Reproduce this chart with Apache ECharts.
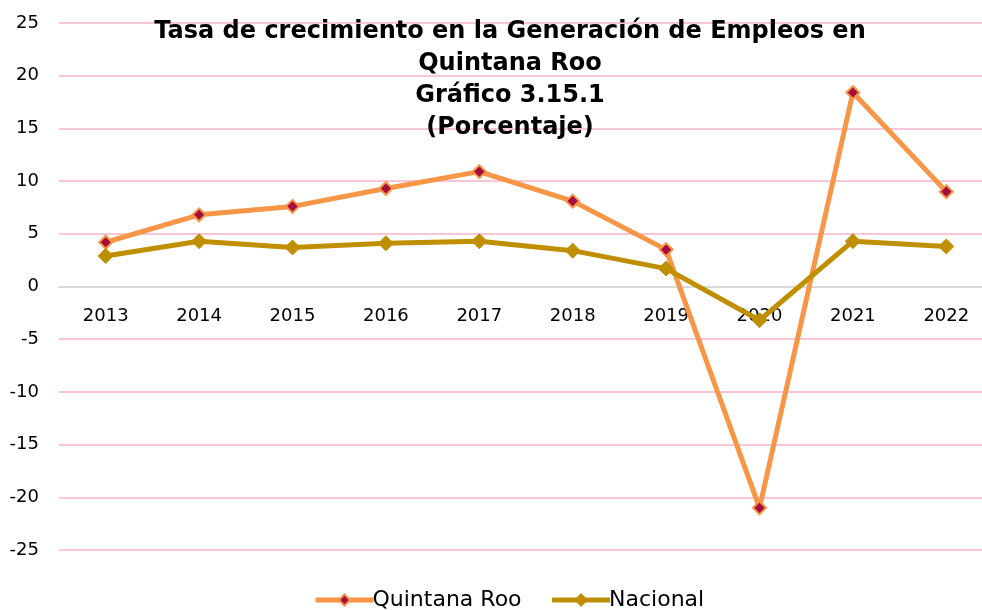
<!DOCTYPE html>
<html>
<head>
<meta charset="utf-8">
<script src="https://cdn.jsdelivr.net/npm/echarts@6/dist/echarts.min.js"></script>
<style>
  html, body { margin: 0; padding: 0; background: #fff; }
  #chart { width: 982px; height: 610px; }
</style>
</head>
<body>
<div id="chart"></div>
<script>
// Annual growth rate of formal employment, Quintana Roo vs national (%)
const years = ['2013', '2014', '2015', '2016', '2017', '2018', '2019', '2020', '2021', '2022'];
const quintanaRoo = [4.2, 6.8, 7.6, 9.3, 10.9, 8.1, 3.5, -21.0, 18.4, 9.0];
const nacional = [2.9, 4.3, 3.7, 4.1, 4.3, 3.4, 1.7, -3.2, 4.3, 3.8];
const yTicks = { min: -25, max: 25, step: 5 };

const font = '"DejaVu Sans", sans-serif';

const chart = echarts.init(document.getElementById('chart'));
chart.setOption({
  animation: false,
  backgroundColor: '#ffffff',
  title: {
    text: 'Tasa de crecimiento en la Generación de Empleos en\nQuintana Roo\nGráfico 3.15.1\n(Porcentaje)',
    left: 505,
    top: 11,
    textAlign: 'center',
    textStyle: {
      fontFamily: font,
      fontSize: 24,
      fontWeight: 'bold',
      color: '#000',
      lineHeight: 32
    }
  },
  legend: {
    bottom: -6,
    left: 308,
    itemWidth: 58,
    itemHeight: 14,
    itemGap: 28,
    lineStyle: { width: 5 },
    textStyle: { fontFamily: font, fontSize: 22, color: '#000', padding: [0, 0, 0, -6] },
    data: ['Quintana Roo', 'Nacional']
  },
  grid: { left: 59, top: 23, width: 934, height: 527, outerBoundsMode: 'none', containLabel: false },
  xAxis: {
    type: 'category',
    data: years,
    axisLine: { onZero: true, lineStyle: { color: '#d9d9d9', width: 2 } },
    axisTick: { show: false },
    // labels sit just beneath the zero line
    axisLabel: { fontFamily: font, fontSize: 18, color: '#000', margin: -243 },
    splitLine: { show: false }
  },
  yAxis: {
    type: 'value',
    min: yTicks.min,
    max: yTicks.max,
    interval: yTicks.step,
    axisLine: { show: false },
    axisTick: { show: false },
    axisLabel: { fontFamily: font, fontSize: 18, color: '#000', margin: 20 },
    splitLine: { lineStyle: { color: '#f8c6d6', width: 2 } }
  },
  series: [
    {
      name: 'Quintana Roo',
      type: 'line',
      data: quintanaRoo,
      symbol: 'diamond',
      symbolSize: 13,
      lineStyle: { color: '#f79646', width: 5 },
      itemStyle: { color: '#a50d3d', borderColor: '#f79646', borderWidth: 2 },
      z: 3
    },
    {
      name: 'Nacional',
      type: 'line',
      data: nacional,
      symbol: 'diamond',
      symbolSize: 15,
      lineStyle: { color: '#bf8f00', width: 5 },
      itemStyle: { color: '#bf8f00', borderColor: '#bf8f00', borderWidth: 1 },
      z: 4
    }
  ]
});
</script>
</body>
</html>
